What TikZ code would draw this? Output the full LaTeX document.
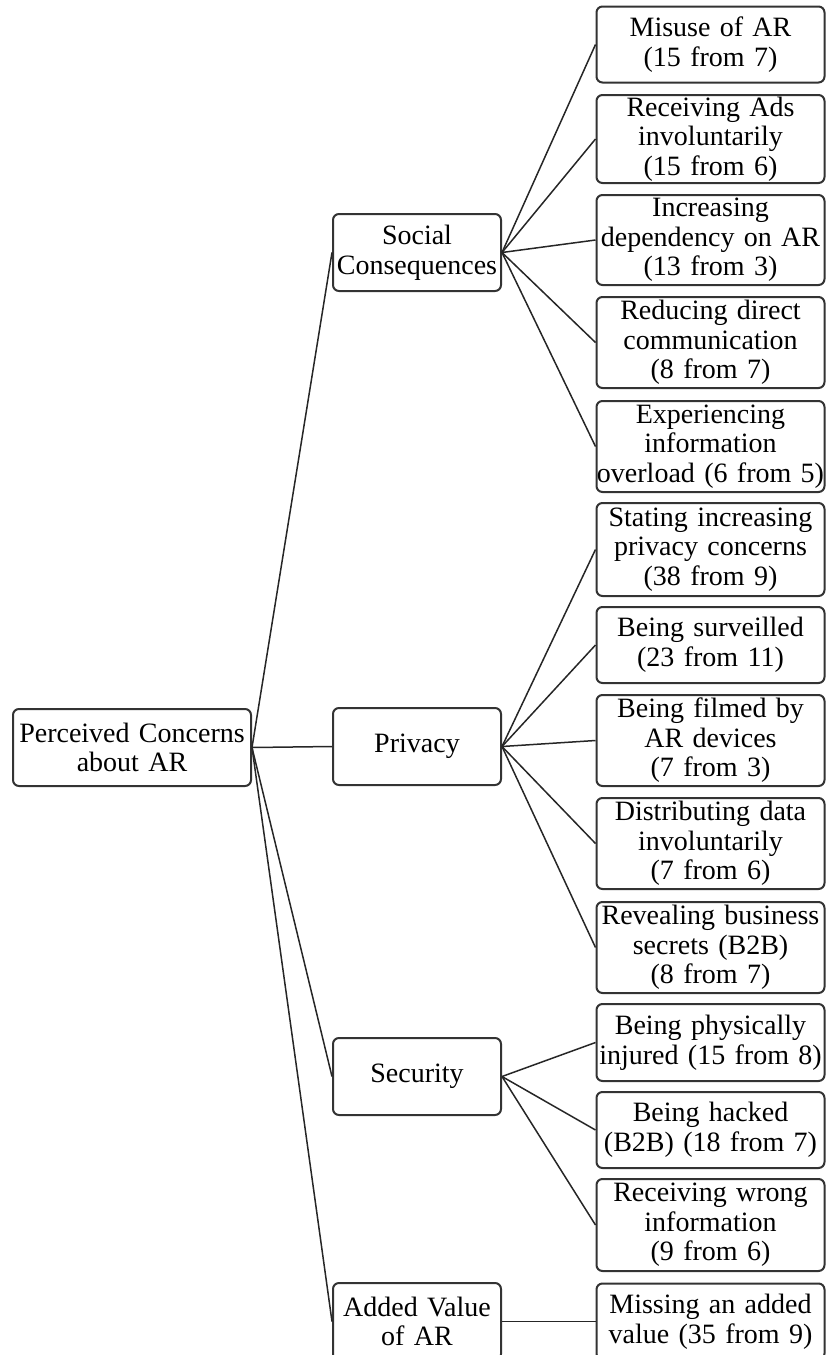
\documentclass[tikz,border=0pt]{standalone}
\usepackage{fontspec}
\setmainfont{Liberation Serif}[WordSpace=0.8]
\usetikzlibrary{shapes}

\tikzset{
  box/.style={shape=rectangle,rounded corners=3pt,draw=black!80,line width=1pt,align=center,inner sep=0pt,font=\fontsize{14}{14.8}\selectfont},
  rootbox/.style={box,text width=119pt,minimum height=38.5pt},
  catbox/.style={box,text width=84pt,minimum height=38.5pt},
  leafbox/.style={box,text width=114pt},
  twoline/.style={minimum height=38pt},
  threeline/.style={minimum height=45.5pt},
  link/.style={draw=black!85,line width=0.75pt}
}

\begin{document}
\begin{tikzpicture}[x=0.5pt,y=-0.5pt]
\useasboundingbox (0,0) rectangle (826,1355);
\node[rootbox] (root) at (132,747.5) {Perceived Concerns\\about AR};

\node[catbox] (soc) at (417,252.5) {Social\\Consequences};
\node[catbox] (priv) at (417,746.5) {Privacy};
\node[catbox] (sec) at (417,1076.5) {Security};
\node[catbox] (val) at (417,1321.5) {Added Value\\of AR};

\node[leafbox,twoline] (misuse) at (710.5,44.5) {Misuse of AR\\(15 from 7)};
\node[leafbox,minimum height=44pt] (ads) at (710.5,139) {Receiving Ads\\involuntarily\\(15 from 6)};
\node[leafbox,minimum height=45pt] (depend) at (710.5,240) {Increasing\\dependency on AR\\(13 from 3)};
\node[leafbox,threeline] (reduce) at (710.5,342.5) {Reducing direct\\communication\\(8 from 7)};
\node[leafbox,threeline] (overload) at (710.5,446.5) {Experiencing\\information\\overload (6 from 5)};

\node[leafbox,minimum height=46.5pt] (stating) at (710.5,549.5) {Stating increasing\\privacy concerns\\(38 from 9)};
\node[leafbox,twoline] (surveil) at (710.5,645) {Being surveilled\\(23 from 11)};
\node[leafbox,threeline] (filmed) at (710.5,740.5) {Being filmed by\\AR devices\\(7 from 3)};
\node[leafbox,threeline] (distrib) at (710.5,843.5) {Distributing data\\involuntarily\\(7 from 6)};
\node[leafbox,threeline] (secrets) at (710.5,947.5) {Revealing business\\secrets (B2B)\\(8 from 7)};

\node[leafbox,minimum height=38.5pt] (injured) at (710.5,1042.5) {Being physically\\injured (15 from 8)};
\node[leafbox,twoline] (hacked) at (710.5,1130) {Being hacked\\(B2B) (18 from 7)};
\node[leafbox,minimum height=46pt] (wrong) at (710.5,1225) {Receiving wrong\\information\\(9 from 6)};

\node[leafbox,twoline] (missing) at (710.5,1321.5) {Missing an added\\value (35 from 9)};

\path [link] (root.east) edge (soc.west);
\path [link] (root.east) edge (priv.west);
\path [link] (root.east) edge (sec.west);
\path [link] (root.east) edge (val.west);

\path [link] (soc.east) edge (misuse.west);
\path [link] (soc.east) edge (ads.west);
\path [link] (soc.east) edge (depend.west);
\path [link] (soc.east) edge (reduce.west);
\path [link] (soc.east) edge (overload.west);

\path [link] (priv.east) edge (stating.west);
\path [link] (priv.east) edge (surveil.west);
\path [link] (priv.east) edge (filmed.west);
\path [link] (priv.east) edge (distrib.west);
\path [link] (priv.east) edge (secrets.west);

\path [link] (sec.east) edge (injured.west);
\path [link] (sec.east) edge (hacked.west);
\path [link] (sec.east) edge (wrong.west);

\path [link] (val.east) edge (missing.west);
\end{tikzpicture}
\end{document}
